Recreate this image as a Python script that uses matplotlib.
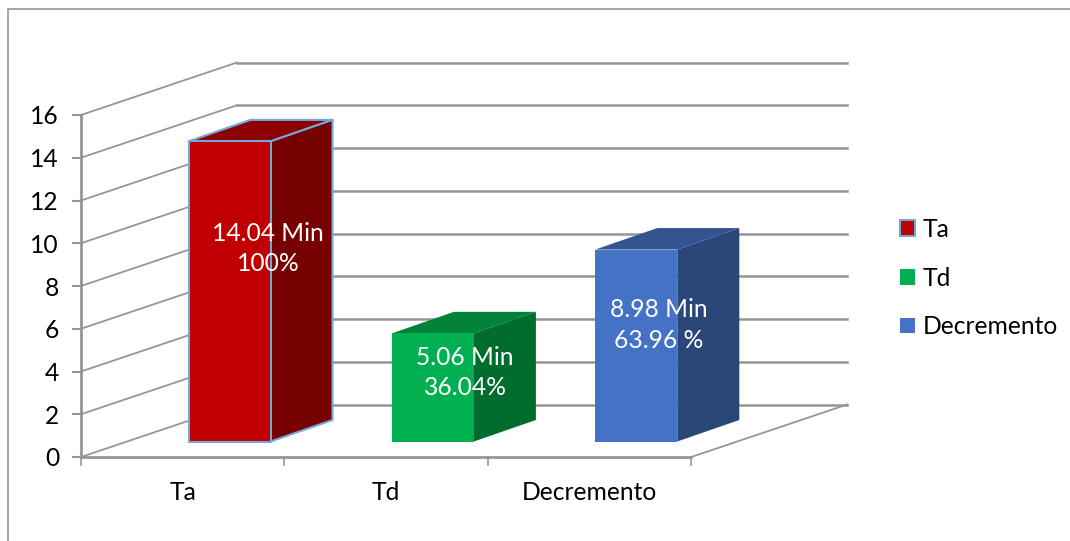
import matplotlib
matplotlib.use('Agg')
from matplotlib import pyplot as plt
from matplotlib.patches import Polygon, Patch

categories = ['Ta', 'Td', 'Decremento']
minutes = [14.04, 5.06, 8.98]
label_lines = ['14.04 Min\n100%', '5.06 Min\n36.04%', '8.98 Min\n63.96 %']
front_colors = ['#C00000', '#00B050', '#4472C4']
top_colors = ['#8E0000', '#008339', '#325592']
side_colors = ['#770000', '#006D2F', '#2A4778']
edge_colors = ['#6FA8DC', 'none', 'none']
y_ticks = list(range(0, 17, 2))

# one x unit is one category, one y unit is one minute
W, H = 1070, 541
X0, Y0 = 81, 457
XU, YU = 203.4, 21.375
# wall depth and bar depth, in data units
DX, DY = 156 / XU, 52.5 / YU
BAR_DX, BAR_DY = 62 / XU, 21.5 / YU
BAR_X, BAR_Y = 107.5 / XU, 15.5 / YU
BAR_W = 82 / XU
# where the data labels sit, pixels from the left and from the top
LABEL_PX = [(268, 248.5), (465, 372.5), (659, 325)]

plt.rcParams['font.family'] = ['Lato', 'DejaVu Sans']
FS = 17.7
fig = plt.figure(figsize=(W / 100, H / 100), dpi=100)
ax = fig.add_axes([0, 0, 1, 1])
ax.set_xlim(-X0 / XU, (W - X0) / XU)
ax.set_ylim((Y0 - H) / YU, Y0 / YU)
ax.axis('off')

GRID = '#969696'
ax.plot([(8 - X0) / XU, (8 - X0) / XU, (W - X0) / XU],
        [(Y0 - H) / YU, (Y0 - 9) / YU, (Y0 - 9) / YU], color='#A6A6A6', lw=1.4)

xmax = len(categories)
for t in y_ticks:
    # gridline across the side wall, then the back wall
    ax.plot([0, DX], [t, t + DY], color=GRID, lw=1.3, zorder=1)
    ax.plot([DX, xmax + DX], [t + DY, t + DY], color=GRID, lw=1.8, zorder=1)
    ax.plot([-8 / XU, 0], [t, t], color=GRID, lw=1.5, zorder=1)
    ax.text(-22 / XU, t, str(t), ha='right', va='center_baseline', fontsize=FS)

# axis lines and floor edge
ax.plot([0, 0], [0, 16], color=GRID, lw=2, zorder=1)
ax.plot([0, xmax], [0, 0], color=GRID, lw=2, zorder=1)
ax.plot([xmax, xmax + DX], [0, DY], color=GRID, lw=1.3, zorder=1)
for i in range(xmax + 1):
    ax.plot([i, i], [0, -8 / YU], color=GRID, lw=1.2, zorder=1)

for i, (name, val) in enumerate(zip(categories, minutes)):
    x0 = i + BAR_X
    x1 = x0 + BAR_W
    y0 = BAR_Y
    y1 = BAR_Y + val
    ec = edge_colors[i]
    kw = dict(edgecolor=ec, lw=1.5 if ec != 'none' else 0, zorder=3, joinstyle='round')
    ax.add_patch(Polygon([(x0, y1), (x1, y1), (x1 + BAR_DX, y1 + BAR_DY), (x0 + BAR_DX, y1 + BAR_DY)],
                         facecolor=top_colors[i], **kw))
    ax.add_patch(Polygon([(x1, y0), (x1 + BAR_DX, y0 + BAR_DY), (x1 + BAR_DX, y1 + BAR_DY), (x1, y1)],
                         facecolor=side_colors[i], **kw))
    ax.add_patch(Polygon([(x0, y0), (x1, y0), (x1, y1), (x0, y1)],
                         facecolor=front_colors[i], **kw))
    px, py = LABEL_PX[i]
    ax.text((px - X0) / XU, (Y0 - py) / YU, label_lines[i], color='white', ha='center', va='center',
            fontsize=FS, linespacing=1.42, zorder=4)
    ax.text(i + 0.5, -36 / YU, name, ha='center', va='center', fontsize=FS)

handles = [Patch(facecolor=c, edgecolor=e if e != 'none' else c, lw=1.5 if e != 'none' else 0)
           for c, e in zip(front_colors, edge_colors)]
fig.legend(handles, categories, loc='center left', bbox_to_anchor=(900 / W, 1 - 278 / H),
           frameon=False, fontsize=FS, handlelength=0.61, handleheight=0.61,
           handletextpad=0.3, labelspacing=1.04, borderpad=0, borderaxespad=0)

plt.savefig('out.png', dpi=100)
